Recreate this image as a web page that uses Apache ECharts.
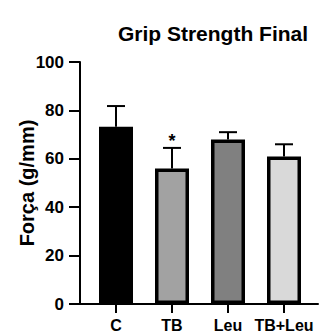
<!DOCTYPE html>
<html>
<head>
<meta charset="utf-8">
<script src="https://cdn.jsdelivr.net/npm/echarts@6/dist/echarts.min.js"></script>
<style>html,body{margin:0;padding:0;background:#fff}#c{width:321px;height:335px}</style>
</head>
<body>
<div id="c"></div>
<script>
var categories = ['C', 'TB', 'Leu', 'TB+Leu'];
var means = [73.2, 56, 68, 61];
var errors = [8.6, 8.5, 3, 5];
var marks = ['', '*', '', ''];
var colors = ['#000000', '#a2a2a2', '#808080', '#d9d9d9'];
var yTicks = [0, 20, 40, 60, 80, 100];

var FONT = 'Arial, "Liberation Sans", Helvetica, sans-serif';
var chart = echarts.init(document.getElementById('c'), null, {renderer: 'svg'});

var option = {
  animation: false,
  backgroundColor: '#fff',
  title: {
    text: 'Grip Strength Final',
    left: 208, top: 18, textAlign: 'center',
    textStyle: {fontFamily: FONT, fontWeight: 'bold', fontSize: 21, color: '#000'}
  },
  grid: [
    {left: 88, right: 9, top: 62, bottom: 31},
    {left: 80, right: 3, top: 62, bottom: 31}
  ],
  xAxis: [
    {
      type: 'category', data: categories, gridIndex: 0,
      axisLine: {show: false},
      axisTick: {show: true, alignWithLabel: true, length: 9, lineStyle: {color: '#000', width: 2}},
      axisLabel: {fontFamily: FONT, fontWeight: 'bold', fontSize: 16, color: '#000', margin: 13, interval: 0}
    },
    {
      type: 'value', gridIndex: 1, min: 0, max: 1,
      axisLine: {show: true, onZero: false, lineStyle: {color: '#000', width: 2}},
      axisTick: {show: false}, axisLabel: {show: false}, splitLine: {show: false}
    }
  ],
  yAxis: [
    {type: 'value', gridIndex: 0, min: 0, max: 100, interval: 20, show: false},
    {
      type: 'value', gridIndex: 1, min: 0, max: 100, interval: 20,
      name: 'Força (g/mm)', nameLocation: 'middle', nameGap: 43, nameMoveOverlap: false,
      nameTextStyle: {fontFamily: FONT, fontWeight: 'bold', fontSize: 20, color: '#000'},
      axisLine: {show: true, lineStyle: {color: '#000', width: 2}},
      axisTick: {show: true, length: 11, lineStyle: {color: '#000', width: 2}},
      axisLabel: {fontFamily: FONT, fontWeight: 'bold', fontSize: 17, color: '#000', margin: 16,
        formatter: function (v) { return yTicks.indexOf(v) >= 0 ? String(v) : ''; }},
      splitLine: {show: false}
    }
  ],
  series: [
    {
      type: 'bar', xAxisIndex: 0, yAxisIndex: 0, barWidth: 34, z: 3,
      data: means.map(function (v, i) {
        return {value: v, itemStyle: {color: colors[i], borderColor: '#000', borderWidth: 3.5}};
      })
    },
    {
      type: 'custom', xAxisIndex: 0, yAxisIndex: 0, z: 2,
      data: means.map(function (v, i) { return [i, v, v + errors[i]]; }),
      renderItem: function (params, api) {
        var i = api.value(0);
        var base = api.coord([i, api.value(1)]);
        var top = api.coord([i, api.value(2)]);
        var half = 9;
        var children = [
          {type: 'line', shape: {x1: base[0], y1: base[1], x2: top[0], y2: top[1]},
            style: {stroke: '#000', lineWidth: 2}},
          {type: 'line', shape: {x1: top[0] - half, y1: top[1], x2: top[0] + half, y2: top[1]},
            style: {stroke: '#000', lineWidth: 2}}
        ];
        if (marks[i]) {
          children.push({type: 'text', style: {text: marks[i], x: top[0], y: top[1] + 2,
            align: 'center', verticalAlign: 'bottom', fill: '#000',
            font: 'bold 18px ' + FONT}});
        }
        return {type: 'group', children: children};
      }
    }
  ]
};
chart.setOption(option);
</script>
</body>
</html>
